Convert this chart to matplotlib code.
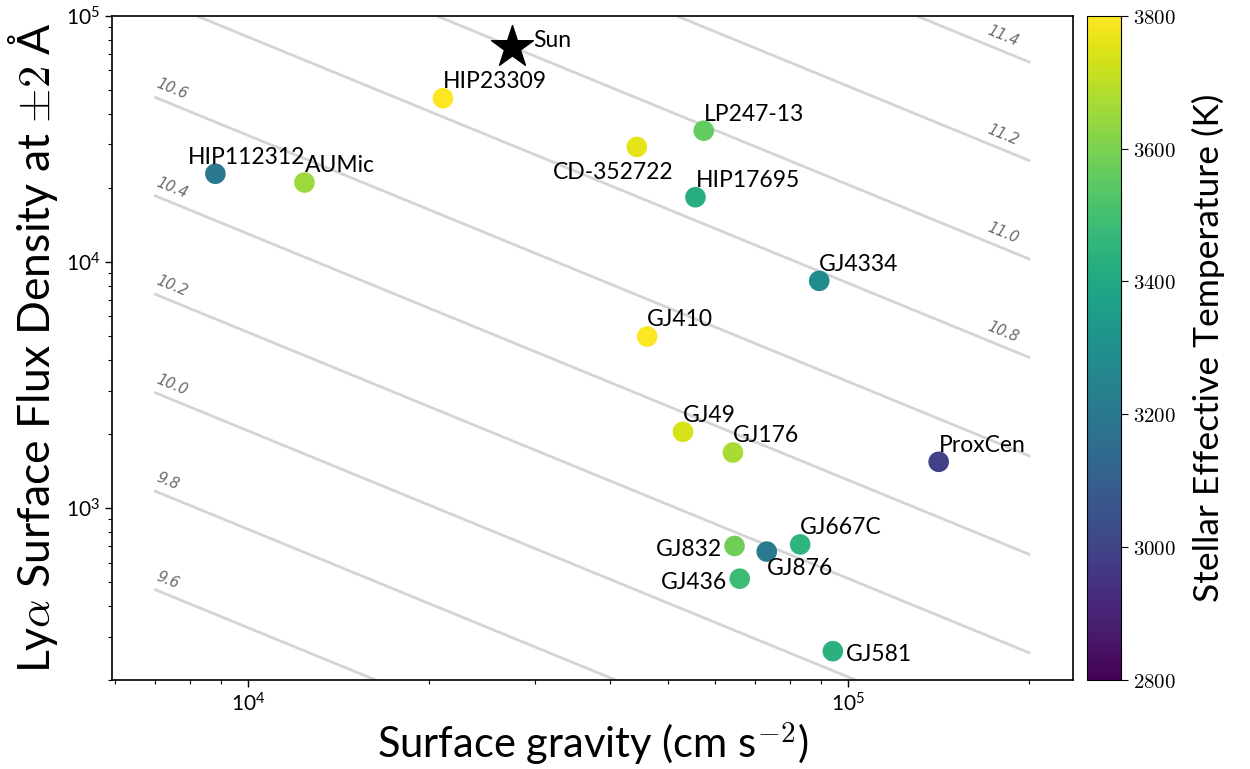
import numpy as np
import matplotlib
matplotlib.use('Agg')
import matplotlib.pyplot as plt

plt.rcParams['font.family'] = ['Lato', 'DejaVu Sans']
plt.rcParams['mathtext.fontset'] = 'cm'

# Star data: surface gravity (cm s^-2), Lya surface flux density, Teff (K)
names = ['HIP23309', 'HIP112312', 'AUMic', 'CD-352722', 'LP247-13', 'HIP17695',
         'GJ4334', 'GJ410', 'GJ49', 'GJ176', 'ProxCen', 'GJ832', 'GJ876',
         'GJ667C', 'GJ436', 'GJ581']
gravity = [21100, 8810, 12400, 44400, 57400, 55600,
           89400, 46200, 53000, 64200, 141400, 64600, 73100,
           83100, 65900, 94200]
flux = [46200, 22800, 21000, 29300, 34100, 18300,
        8370, 4970, 2040, 1680, 1540, 701, 665,
        711, 516, 262]
teff = [3800, 3200, 3650, 3760, 3560, 3420,
        3280, 3800, 3740, 3670, 2990, 3580, 3210,
        3450, 3480, 3440]

sun_gravity = 27500
sun_flux = 74700

# contour levels of the constant-product lines
levels = [9.6, 9.8, 10.0, 10.2, 10.4, 10.6, 10.8, 11.0, 11.2, 11.4]

# label placement: (x factor, y factor, ha)
label_pos = {
    'HIP112312': (0.9, 1.1, 'left'),
    'CD-352722': (1.15, 1 / 1.35, 'right'),
    'GJ832': (0.953, 1 / 1.1, 'right'),
    'GJ436': (0.953, 1 / 1.1, 'right'),
    'GJ876': (1.0, 0.8, 'left'),
    'GJ581': (1.05, 1 / 1.1, 'left'),
}

fig = plt.figure(figsize=(12.5, 7.69), dpi=100)
ax = fig.add_axes([0.0898, 0.1157, 0.7688, 0.8639])
cax = fig.add_axes([0.8694, 0.1157, 0.0274, 0.8639])

ax.set_xscale('log')
ax.set_yscale('log')
ax.set_xlim(5930, 2.37e5)
ax.set_ylim(200, 1e5)

# constant lines
g_line = np.logspace(np.log10(7e3), np.log10(2e5), 100)
for lev in levels:
    f_line = 10 ** (2 * lev - 12.687) / g_line
    ax.plot(g_line, f_line, color='#d4d4d4', lw=2, zorder=1)

p1 = ax.transData.transform((1e4, 1e4))
p2 = ax.transData.transform((1e5, 1e3))
angle = np.degrees(np.arctan2(p2[1] - p1[1], p2[0] - p1[0]))

for lev in levels:
    f_start = 10 ** (2 * lev - 12.687) / 7e3
    if f_start < 1e5:
        gx = 7e3
    else:
        gx = 1.7e5
    fy = 10 ** (2 * lev - 12.687) / gx * 1.1
    ax.text(gx, fy, f'{lev:.1f}', rotation=angle, rotation_mode='anchor',
            ha='left', va='baseline', color='#6a6a6a', fontsize=10.5,
            style='italic', family='DejaVu Sans', zorder=2)

sc = ax.scatter(gravity, flux, c=teff, cmap='viridis', vmin=2800, vmax=3800,
                s=220, edgecolors='none', zorder=3)
ax.scatter([sun_gravity], [sun_flux], marker='*', s=1000, color='k', zorder=3)
ax.text(sun_gravity * 1.085, sun_flux, 'Sun', fontsize=16.5, ha='left', va='baseline')

for name, g, f in zip(names, gravity, flux):
    xf, yf, ha = label_pos.get(name, (1.0, 1.1, 'left'))
    ax.text(g * xf, f * yf, name, fontsize=16.5, ha=ha, va='baseline', zorder=4)

ax.set_xlabel(r'Surface gravity (cm s$^{-2}$)', fontsize=30)
ax.set_ylabel(r'Ly$\alpha$ Surface Flux Density at $\pm2$ Å', fontsize=32)
ax.tick_params(which='major', labelsize=15, length=5, width=1)
ax.tick_params(which='minor', length=3, width=0.8)
for sp in ax.spines.values():
    sp.set_linewidth(1.2)

cb = fig.colorbar(sc, cax=cax, ticks=[2800, 3000, 3200, 3400, 3600, 3800])
cb.ax.set_yticklabels([f'${t}$' for t in [2800, 3000, 3200, 3400, 3600, 3800]])
cb.ax.tick_params(labelsize=15, length=5)
cb.set_label('Stellar Effective Temperature (K)', fontsize=25.5, labelpad=12)

fig.savefig('out.png', dpi=100)
